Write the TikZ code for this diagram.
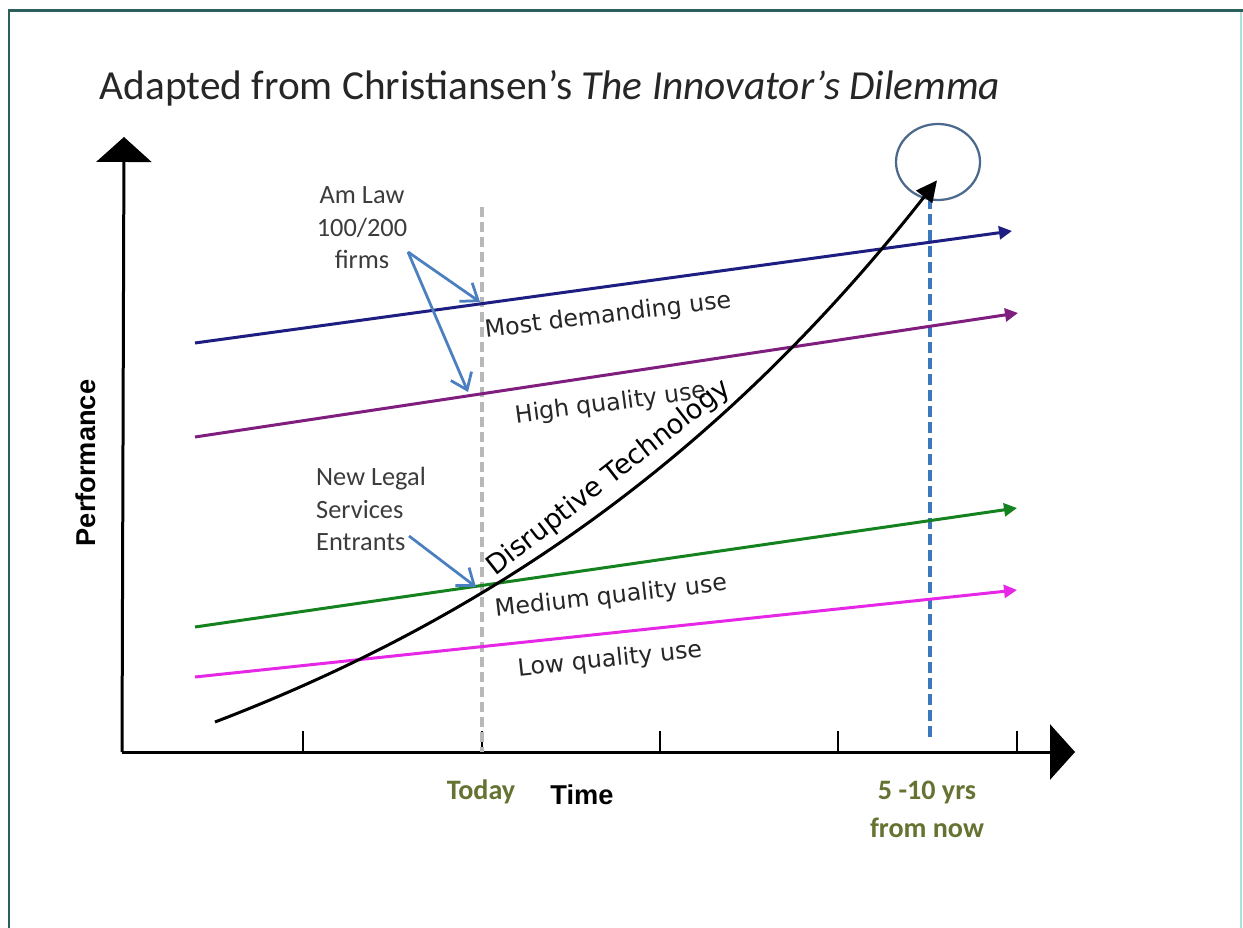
\documentclass[tikz,border=0pt]{standalone}
\usepackage{fontspec}
\setmainfont{Carlito}
\newfontfamily\verdfont{DejaVu Sans}
\newfontfamily\arialfont{Liberation Sans}
\usetikzlibrary{arrows.meta}

\definecolor{frameteal}{RGB}{45,95,90}
\definecolor{framelight}{RGB}{175,225,220}
\definecolor{navyuse}{RGB}{30,30,130}
\definecolor{purpleuse}{RGB}{128,30,128}
\definecolor{greenuse}{RGB}{20,130,30}
\definecolor{pinkuse}{RGB}{230,40,230}
\definecolor{callblue}{RGB}{74,127,192}
\definecolor{futureblue}{RGB}{60,120,190}
\definecolor{ringblue}{RGB}{75,105,140}
\definecolor{olivetext}{RGB}{100,115,50}
\definecolor{notegray}{RGB}{60,60,60}

\tikzset{
  axisline/.style={line width=0.06cm, -{Triangle[length=0.5cm,width=1.1cm]}},
  useline/.style={line width=0.06cm, -{Triangle[length=0.26cm,width=0.26cm]}},
  uselabel/.style={font=\verdfont\fontsize{13.5}{16}\selectfont, text=black!85},
  callout/.style={line width=0.055cm, draw=callblue, -{Straight Barb[length=0.3cm,width=0.45cm]}},
  notetext/.style={font=\fontsize{15}{18.5}\selectfont, text=notegray},
  ticktext/.style={font=\bfseries\fontsize{16}{21.5}\selectfont, text=olivetext, align=center},
}

\begin{document}
\begin{tikzpicture}[x=0.02cm,y=-0.02cm]
    \useasboundingbox (0,0) rectangle (1243,928);
    \fill[white] (0,0) rectangle (1243,928);

    % frame
    \draw[framelight, line width=0.04cm] (1241,11) -- (1241,928);
    \draw[frameteal, line width=0.06cm] (9,928) -- (9,11) -- (1243,11);

    % title
    \node[anchor=base, font=\fontsize{23.5}{28}\selectfont, text=black!85] (title) at (550,100)
        {Adapted from Christiansen’s \textit{The Innovator’s Dilemma}};

    % axes
    \coordinate (origin) at (124,752);
    \coordinate (ytip) at (124,137);
    \coordinate (xtip) at (1075,752);
    \draw[axisline] (122,752) -- (ytip);
    \draw[axisline] (122,752) -- (xtip);
    \foreach \tx in {303,482,660,838,1017}
        \draw[line width=0.03cm] (\tx,752) -- (\tx,731);

    \node[font=\arialfont\bfseries\fontsize{15.5}{18}\selectfont, rotate=90] (perf) at (86,463) {Performance};
    \node[font=\arialfont\bfseries\fontsize{15.5}{18}\selectfont] (time) at (582,795) {Time};
    \node[ticktext] (today) at (481,792) {Today};
    \node[ticktext] (future) at (927,809) {5 -10 yrs\\from now};

    % today and future markers
    \draw[black!28, line width=0.07cm, dash pattern=on 0.2cm off 0.1cm] (482,207) -- (482,752);
    \draw[ringblue, line width=0.045cm] (938,162) ellipse [x radius=42, y radius=38];
    \draw[futureblue, line width=0.07cm, dash pattern=on 0.22cm off 0.1cm] (930,198) -- (930,740);

    % uses
    \coordinate (navyA) at (195,343);   \coordinate (navyB) at (1012,231);
    \coordinate (purpleA) at (195,437); \coordinate (purpleB) at (1018,313);
    \coordinate (greenA) at (195,627);  \coordinate (greenB) at (1017,508);
    \coordinate (pinkA) at (195,677);   \coordinate (pinkB) at (1017,590);
    \draw[useline, navyuse] (navyA) -- (navyB);
    \draw[useline, purpleuse] (purpleA) -- (purpleB);
    \draw[useline, greenuse] (greenA) -- (greenB);
    \draw[useline, pinkuse] (pinkA) -- (pinkB);

    \node[uselabel, rotate=7] (most) at (608,316) {Most demanding use};
    \node[uselabel, rotate=7.5] (high) at (611,404) {High quality use};
    \node[uselabel, rotate=6.5] (medium) at (611,597) {Medium quality use};
    \node[uselabel, rotate=6] (low) at (610,660) {Low quality use};

    % disruptive technology
    \draw[line width=0.06cm, -{Triangle[length=0.42cm,width=0.4cm]}]
        plot[domain=215:937, samples=80] (\x, {948-226*exp(0.0017*(\x-215))});
    \node[font=\verdfont\fontsize{15.5}{18}\selectfont, rotate=38] (disrupt) at (609,478) {Disruptive Technology};

    % callouts
    \node[notetext, align=center] (amlaw) at (362,228) {Am Law\\100/200\\firms};
    \coordinate (amlawtail) at (408,252);
    \coordinate (hitmost) at (480,302);
    \coordinate (hithigh) at (468,392);
    \draw[callout] (amlawtail) -- (hitmost);
    \draw[callout] (amlawtail) -- (hithigh);

    \node[notetext, align=left, anchor=west] (entrants) at (310,509) {New Legal\\Services\\Entrants};
    \coordinate (entrtail) at (409,536);
    \coordinate (hitmedium) at (476,587);
    \draw[callout] (entrtail) -- (hitmedium);
\end{tikzpicture}
\end{document}
